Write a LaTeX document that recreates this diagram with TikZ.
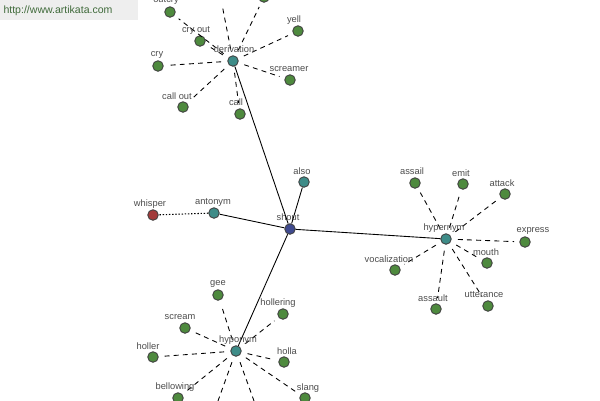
\documentclass[tikz,border=0pt]{standalone}
\usepackage{fontspec}
\setmainfont{Liberation Sans}
\usetikzlibrary{positioning}
\definecolor{leafGreen}{HTML}{4E8A3E}
\definecolor{relTeal}{HTML}{3E8C88}
\definecolor{shoutBlue}{HTML}{3F4A8F}
\definecolor{whisperRed}{HTML}{A23B3B}
\definecolor{markGray}{HTML}{EEEEEE}
\definecolor{markText}{HTML}{3F6A3A}
\tikzset{
  dot/.style={circle, draw=black!75, line width=0.5pt, inner sep=0pt, minimum size=6pt},
  leaf/.style={dot, fill=leafGreen},
  rel/.style={dot, fill=relTeal},
  headword/.style={dot, fill=shoutBlue},
  opp/.style={dot, fill=whisperRed},
  tag/.style={font=\fontsize{5.3}{6}\selectfont, text=black!70, inner sep=0pt},
  link/.style={line width=0.5pt},
  sublink/.style={line width=0.5pt, dash pattern=on 2.8pt off 2.4pt, shorten <=3.5pt, shorten >=3pt},
  opplink/.style={line width=0.6pt, dash pattern=on 0.8pt off 1pt}
}

\begin{document}
\begin{tikzpicture}[x=0.02cm, y=-0.02cm]
\useasboundingbox (0,0) rectangle (600,400);
\clip (0,0) rectangle (600,400);
% ---------- watermark ----------
\fill[markGray] (0,0) rectangle (138,20);
\node[font=\fontsize{6}{7}\selectfont, text=markText] (mark) at (58,11) {http://www.artikata.com};
% ---------- centre ----------
\node[headword] (shout) at (290,229) {};
\node[tag] (l-shout) at (288,217) {shout};
% ---------- derivation ----------
\node[rel] (deriv) at (233,61) {};
\node[leaf] (outcry) at (170,12) {};
\node[leaf] (cryout) at (200,41) {};
\node[leaf] (cry) at (158,66) {};
\node[leaf] (callout) at (183,107) {};
\node[leaf] (call) at (240,114) {};
\node[leaf] (screamer) at (290,80) {};
\node[leaf] (yell) at (298,31) {};
\node[leaf] (topa) at (220,-6) {};
\node[leaf] (topb) at (264,-3) {};
\foreach \n in {outcry,cryout,cry,callout,call,screamer,yell,topa,topb}
  \draw[sublink] (deriv) -- (\n);
\draw[link] (deriv) -- (shout);
\node[tag] (l-outcry) at (166,0) {outcry};
\node[tag] (l-cryout) at (196,30) {cry out};
\node[tag] (l-cry) at (157,55) {cry};
\node[tag] (l-callout) at (177,96) {call out};
\node[tag] (l-call) at (236,102) {call};
\node[tag] (l-screamer) at (289,69) {screamer};
\node[tag] (l-yell) at (294,20) {yell};
\node[tag] (l-deriv) at (234,49) {derivation};
% ---------- antonym, also ----------
\node[rel] (anton) at (214,213) {};
\node[opp] (whisper) at (153,215) {};
\node[rel] (also) at (304,182) {};
\draw[link] (shout) -- (anton);
\draw[opplink] (anton) -- (whisper);
\draw[link] (shout) -- (also);
\node[tag] (l-anton) at (213,202) {antonym};
\node[tag] (l-whisper) at (150,204) {whisper};
\node[tag] (l-also) at (302,171) {also};
% ---------- hypernym ----------
\node[rel] (hyper) at (446,239) {};
\node[leaf] (assail) at (415,183) {};
\node[leaf] (emit) at (463,184) {};
\node[leaf] (attack) at (505,194) {};
\node[leaf] (express) at (525,242) {};
\node[leaf] (mouth) at (487,263) {};
\node[leaf] (utter) at (488,306) {};
\node[leaf] (assault) at (436,309) {};
\node[leaf] (vocal) at (395,270) {};
\foreach \n in {assail,emit,attack,express,mouth,utter,assault,vocal}
  \draw[sublink] (hyper) -- (\n);
\draw[link] (shout) -- (hyper);
\node[tag] (l-hyper) at (444,228) {hypernym};
\node[tag] (l-assail) at (412,171) {assail};
\node[tag] (l-emit) at (461,173) {emit};
\node[tag] (l-attack) at (502,183) {attack};
\node[tag] (l-express) at (533,231) {express};
\node[tag] (l-mouth) at (486,252) {mouth};
\node[tag] (l-utter) at (484,295) {utterance};
\node[tag] (l-assault) at (433,298) {assault};
\node[tag] (l-vocal) at (389,259) {vocalization};
% ---------- hyponym ----------
\node[rel] (hypo) at (236,351) {};
\node[leaf] (gee) at (218,295) {};
\node[leaf] (scream) at (185,328) {};
\node[leaf] (holler) at (153,357) {};
\node[leaf] (hollering) at (283,314) {};
\node[leaf] (holla) at (284,362) {};
\node[leaf] (slang) at (305,398) {};
\node[leaf] (bellowing) at (178,398) {};
\node[leaf] (lowa) at (214,412) {};
\node[leaf] (lowb) at (258,412) {};
\foreach \n in {gee,scream,holler,hollering,holla,slang,bellowing,lowa,lowb}
  \draw[sublink] (hypo) -- (\n);
\draw[link] (shout) -- (hypo);
\node[tag] (l-hypo) at (238,340) {hyponym};
\node[tag] (l-gee) at (218,284) {gee};
\node[tag] (l-scream) at (180,317) {scream};
\node[tag] (l-holler) at (148,346) {holler};
\node[tag] (l-hollering) at (278,303) {hollering};
\node[tag] (l-holla) at (287,351) {holla};
\node[tag] (l-slang) at (308,388) {slang};
\node[tag] (l-bellowing) at (175,387) {bellowing};
\end{tikzpicture}
\end{document}
